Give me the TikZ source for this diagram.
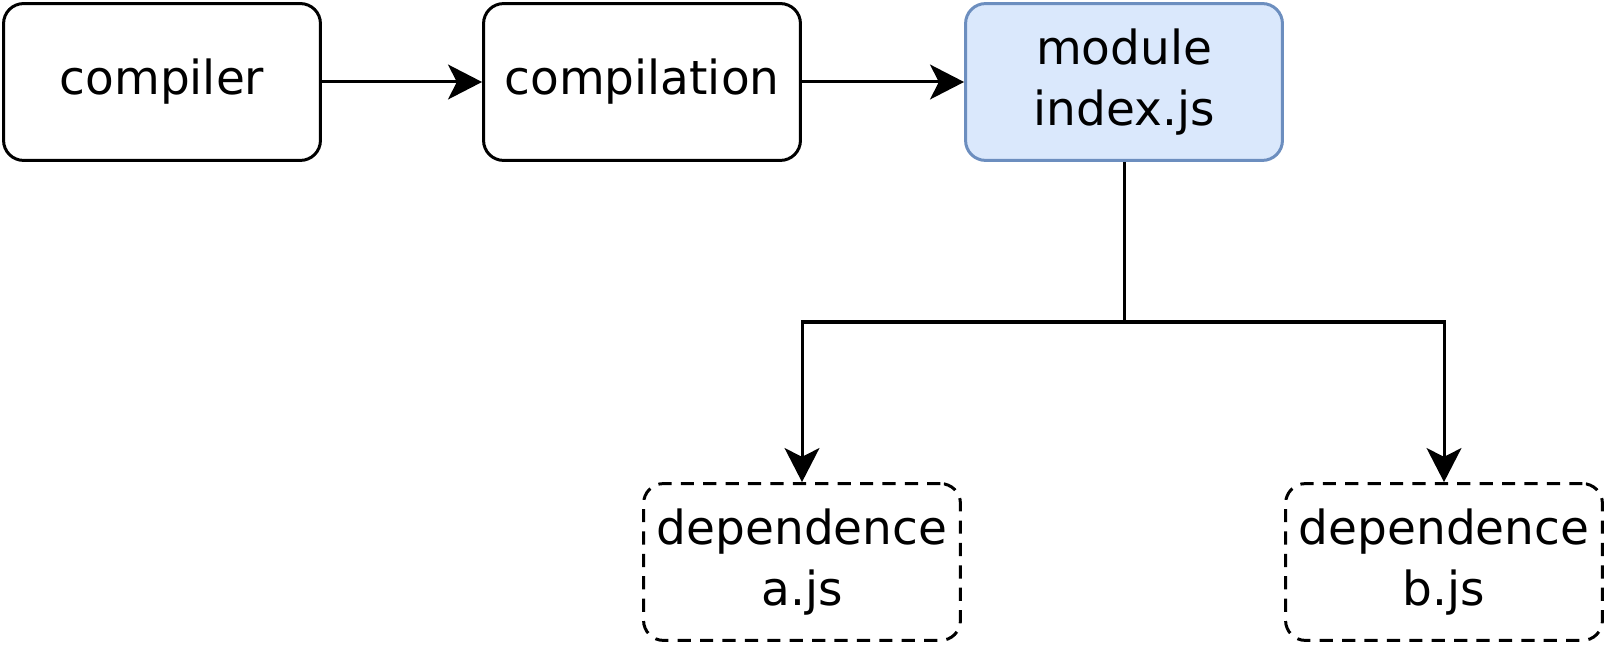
\documentclass[tikz,border=0pt]{standalone}
\usepackage{fontspec}
\setmainfont{DejaVu Sans}
\usetikzlibrary{arrows.meta}
\tikzset{
	stagenode/.style = {align=center, inner sep=0pt, text centered,
		rectangle, rounded corners=0.5cm, draw=black, line width=0.075cm,
		minimum width=7.92cm, minimum height=3.92cm,
		font=\fontsize{33.4}{43.4}\selectfont},% etape de compilation
	modnode/.style = {stagenode, draw=modline, fill=modfill},% module d'entree
	depnode/.style = {stagenode, dash pattern=on 0.33cm off 0.23cm},% dependance
	conn/.style = {line width=0.075cm, draw=black},
	arr/.style = {conn, -{Stealth[length=0.85cm, width=0.87cm, inset=0.22cm]}}
}
\definecolor{modfill}{HTML}{DAE8FC}
\definecolor{modline}{HTML}{6C8EBF}
\begin{document}
\begin{tikzpicture}[x=0.025cm, y=0.025cm]
	\useasboundingbox (0,0) rectangle (1608,-648);
	\node [stagenode] (compiler) at (162,-82) {compiler};
	\node [stagenode] (compilation) at (642,-82) {compilation};
	\node [modnode] (module) at (1124,-82) {module\\index.js};
	\node [depnode] (depa) at (802,-562) {dependence\\a.js};
	\node [depnode] (depb) at (1444,-562) {dependence\\b.js};
	\coordinate (split) at (1124,-322);
	\draw [arr] (compiler) -- (compilation);
	\draw [arr] (compilation) -- (module);
	\draw [conn] (module) -- (split);
	\draw [arr] (split) -| (depa);
	\draw [arr] (split) -| (depb);
\end{tikzpicture}
\end{document}
